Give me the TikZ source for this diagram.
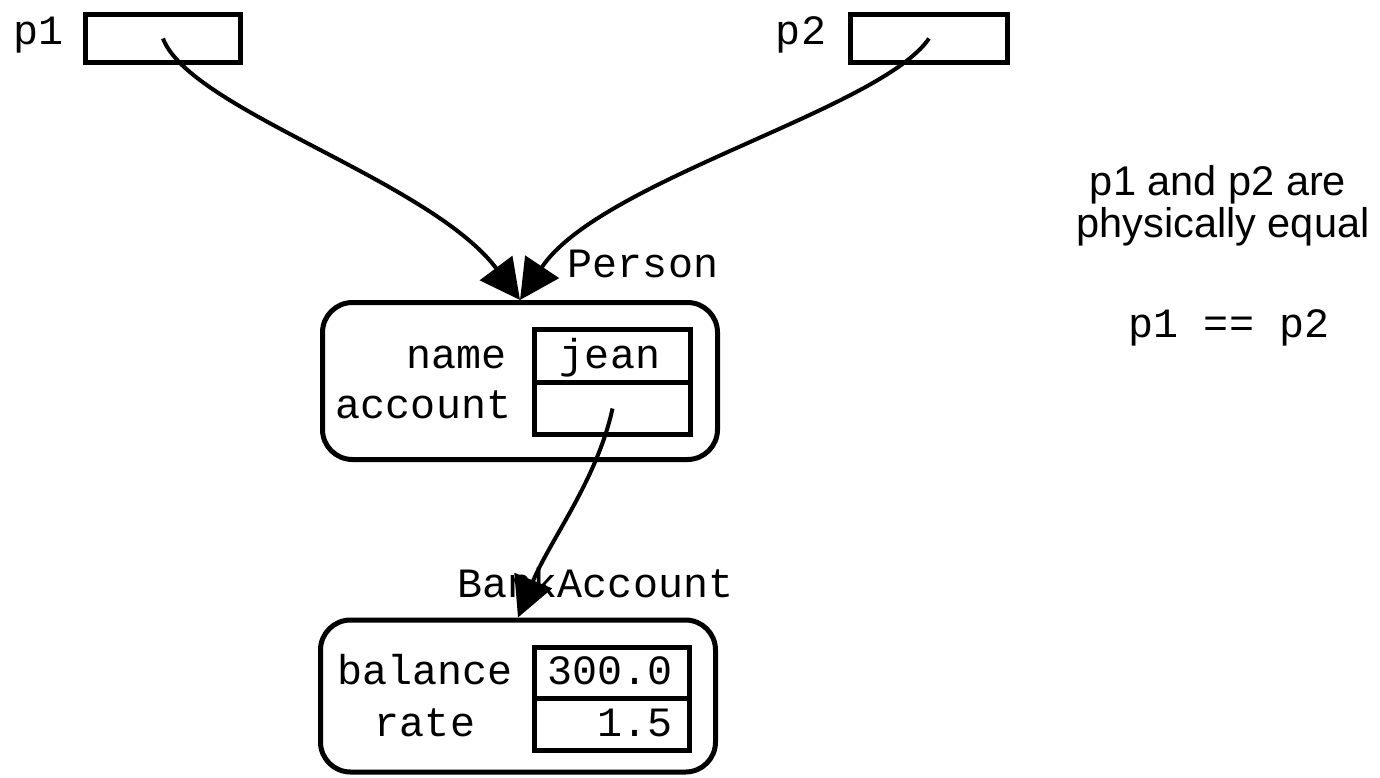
\documentclass[tikz,border=0pt]{standalone}
\usepackage{fontspec}
\newfontfamily\notesans{Liberation Sans}
\newfontfamily\monotext{Liberation Mono}
\usetikzlibrary{arrows.meta}
\begin{document}
\begin{tikzpicture}[x=1pt,y=-1pt,
  fieldbox/.style={draw, line width=5pt, inner sep=0pt, minimum width=156pt},
  objbox/.style={draw, line width=5pt, rounded corners=30pt, inner sep=0pt, minimum width=395pt},
  mono/.style={font=\monotext\fontsize{41.7}{45}\selectfont, inner sep=0pt, anchor=base},
  sans/.style={font=\notesans\fontsize{41.5}{42}\selectfont, inner sep=0pt, anchor=base},
  ptr/.style={line width=4pt, -{Triangle[length=40pt,width=40pt]}}]
\useasboundingbox (0,0) rectangle (1380,777);
% pointer variables
\node[fieldbox, minimum width=155pt, minimum height=48pt] (p1box) at (163,38.5) {};
\node[fieldbox, minimum width=157pt, minimum height=48pt] (p2box) at (929,38.5) {};
\node[mono] (p1lab) at (38.5,44) {p1};
\node[mono] (p2lab) at (801,44) {p2};
% Person object
\node[objbox, minimum height=157pt] (person) at (520,381) {};
\node[mono] (personlab) at (643,277) {Person};
\node[fieldbox, minimum height=53pt] (namebox) at (612.5,356) {};
\node[fieldbox, minimum height=52pt] (acctbox) at (612.5,408.5) {};
\node[mono] (namelab) at (456.5,368) {name};
\node[mono] (acctlab) at (423.5,418) {account};
\node[mono] (jean) at (610,368) {jean};
% BankAccount object
\node[objbox, minimum height=152pt] (bank) at (518,696) {};
\node[mono] (banklab) at (595.5,597) {BankAccount};
\node[fieldbox, minimum width=155pt, minimum height=50.5pt] (balbox) at (612,672.75) {};
\node[fieldbox, minimum width=155pt, minimum height=52.5pt] (ratebox) at (612,724.25) {};
\node[mono] (ballab) at (425,684) {balance};
\node[mono] (ratelab) at (425,736) {rate};
\node[mono] (balval) at (610,684) {300.0};
\node[mono] (rateval) at (635,736) {1.5};
% pointers
\draw[ptr] (p1box.center) .. controls (190,110) and (430,180) .. (person.north);
\draw[ptr] (p2box.center) .. controls (880,110) and (600,180) .. (person.north);
\draw[ptr] (acctbox.center) .. controls (597,480) and (550,540) .. (bank.north);
% note
\node[sans] (note1) at (1218,195) {p1 and p2 are};
\node[sans] (note2) at (1223,237) {physically equal};
\node[mono] (eq) at (1229,337) {p1 == p2};
\end{tikzpicture}
\end{document}
